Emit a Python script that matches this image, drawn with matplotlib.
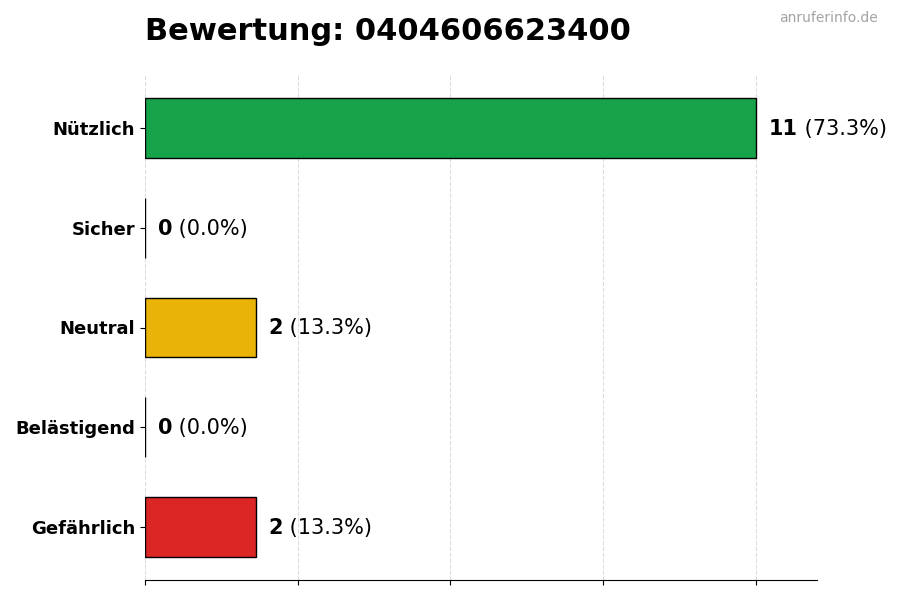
import matplotlib
matplotlib.use("Agg")
import matplotlib.pyplot as plt
import numpy as np

categories = ["Nützlich", "Sicher", "Neutral", "Belästigend", "Gefährlich"]
counts = [11, 0, 2, 0, 2]
colors = ["#16a34a", "#9ca3af", "#eab308", "#f97316", "#dc2626"]
title = "Bewertung: 0404606623400"
watermark = "anruferinfo.de"

total = sum(counts)
fig = plt.figure(figsize=(9, 6), dpi=100)
ax = fig.add_axes([145/900, 1-580/600, (817-145)/900, (580-75)/600])

y = np.arange(len(categories))[::-1]
ax.barh(y, counts, height=0.6, color=colors, edgecolor="black", linewidth=1, zorder=3)

xmax = max(counts) * 1.1
ax.set_xlim(0, xmax)
ax.set_xticks(np.linspace(0, max(counts), 5))
ax.set_xticklabels([])
ax.set_yticks(y)
ax.set_yticklabels(categories, fontsize=13, fontweight="bold")
ax.grid(axis="x", linestyle="--", color="#dcdcdc", linewidth=0.8, zorder=0)
for s in ["top", "right", "left"]:
    ax.spines[s].set_visible(False)

for yi, c in zip(y, counts):
    pct = c / total * 100
    t = ax.text(c + xmax * 0.019, yi - 0.01, f"{c}", fontsize=15, fontweight="bold",
                va="center", ha="left", zorder=4)
    ax.annotate(f" ({pct:.1f}%)", xy=(1, 0), xycoords=t, va="bottom", ha="left",
                fontsize=15, zorder=4)

fig.text(145/900, 1-31/600, title, fontsize=22, fontweight="bold", ha="left", va="center")
fig.text(878/900, 1-17.5/600, watermark, fontsize=10, color="#a3a3a3", ha="right", va="center")

fig.savefig("out.png", dpi=100)
